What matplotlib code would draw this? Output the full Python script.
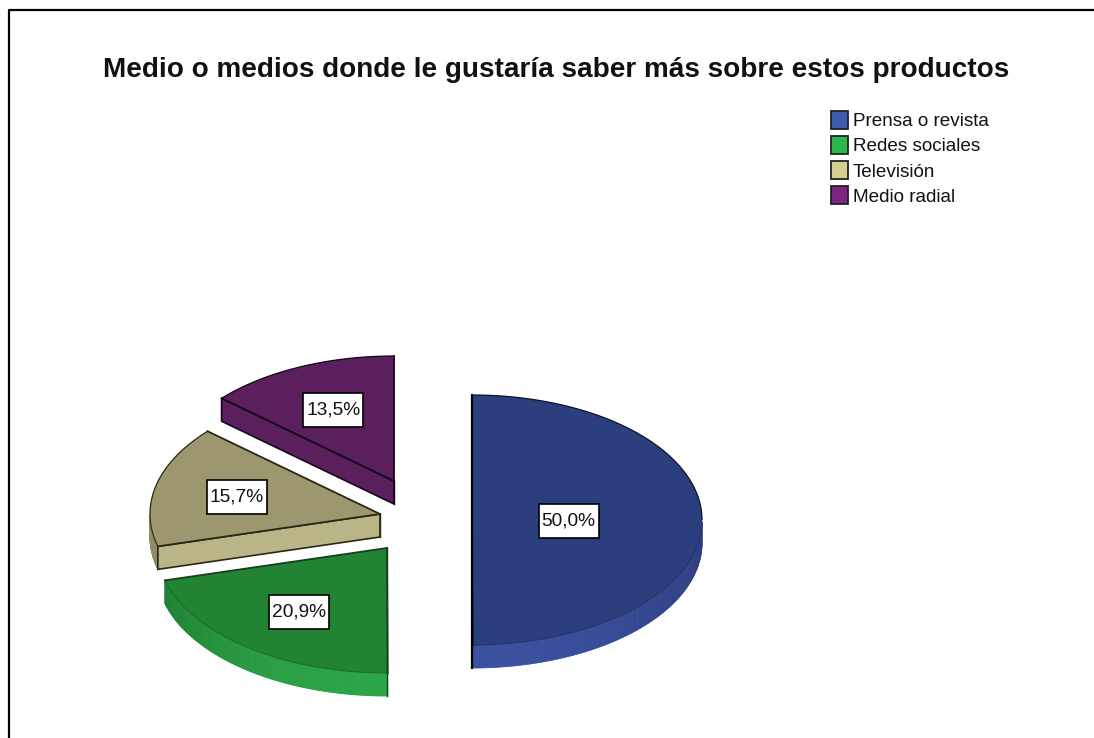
import numpy as np
import matplotlib
matplotlib.use('Agg')  # no display here
import matplotlib.pyplot as plt
from matplotlib.colors import to_rgb
from matplotlib.patches import Polygon, Rectangle

plt.rcParams['font.family'] = ['Liberation Sans', 'DejaVu Sans']

# Survey results
categories = ['Prensa o revista', 'Redes sociales', 'Televisión', 'Medio radial']
values = [50.0, 20.9, 15.7, 13.5]
value_labels = ['50,0%', '20,9%', '15,7%', '13,5%']
title = 'Medio o medios donde le gustaría saber más sobre estos productos'

# Look of each slice
top_colors = ['#2b3f7e', '#238335', '#9c976f', '#5a1f5c']
rim_dark = ['#2d3d7e', '#1f7c33', '#8f8a66', '#5a1f5c']
rim_light = ['#3a51a0', '#2ba547', '#a5a07a', '#5a1f5c']
cut_colors = ['#3a51a0', '#2ba547', '#bab588', '#5c1f5e']
edge_colors = ['#0c1226', '#14401c', '#2a2814', '#14061a']
front_edge = ['#24346a', '#1c6e2c', '#2a2814', '#14061a']
legend_colors = ['#3c5aaf', '#2cb84a', '#d5cf92', '#7b2480']

# Pie geometry in pixels, y pointing down
RX, RY, DEPTH = 230, 125, 23
centers = [(472, 520), (387, 548), (380, 514), (394, 481)]
label_frac = [0.42, 0.63, 0.64, 0.64]
BOX_W, BOX_H = 60, 34


def rim_point(cx, cy, deg):
    # angle runs clockwise from 12 o'clock
    t = np.radians(deg)
    return cx + RX * np.sin(t), cy - RY * np.cos(t)


def draw_slice(ax, i, start, end):
    cx, cy = centers[i]
    deg = np.linspace(start, end, 181)
    xs, ys = rim_point(cx, cy, deg)

    # outer wall is only seen on the front half of the ellipse
    wall = deg[(deg >= 90) & (deg <= 270)]
    dark = np.array(to_rgb(rim_dark[i]))
    light = np.array(to_rgb(rim_light[i]))
    for a, b in zip(wall[:-1], wall[1:]):
        xa, ya = rim_point(cx, cy, a)
        xb, yb = rim_point(cx, cy, b)
        # brightest towards the bottom of the pie
        w = np.clip(np.cos(np.radians(a - 180)), 0, 1) ** 1.5
        col = dark + (light - dark) * w
        ax.add_patch(Polygon([(xa, ya), (xb, yb), (xb, yb + DEPTH), (xa, ya + DEPTH)],
                             fc=col, ec=col, lw=0.6, zorder=2))

    # the cut face is visible only for slices starting on the left side
    if start > 180:
        px, py = rim_point(cx, cy, start)
        ax.add_patch(Polygon([(cx, cy), (px, py), (px, py + DEPTH), (cx, cy + DEPTH)],
                             fc=cut_colors[i], ec=edge_colors[i], lw=1.2, zorder=3))

    # top face, back arc dark and front arc nearly the fill colour
    verts = np.column_stack([np.r_[cx, xs], np.r_[cy, ys]])
    ax.add_patch(Polygon(verts, closed=True, fc=top_colors[i], ec='none', zorder=4))
    back = (deg <= 90) | (deg >= 270)
    front = (deg >= 90) & (deg <= 270)
    ax.plot(xs[back], ys[back], color=edge_colors[i], lw=0.9, zorder=5)
    ax.plot(xs[front], ys[front], color=front_edge[i], lw=0.8, zorder=5)
    ax.plot([cx, xs[0]], [cy, ys[0]], color=edge_colors[i], lw=1.3, zorder=5)
    ax.plot([cx, xs[-1]], [cy, ys[-1]], color=edge_colors[i], lw=1.3, zorder=5)

    # vertical edge running down to the bottom of the wall
    if i == 0:
        ax.plot([cx, cx], [cy - RY, cy + RY + DEPTH], color='black', lw=1.6, zorder=6)
    elif i == 1:
        ax.plot([cx, cx], [cy, cy + RY + DEPTH], color=edge_colors[i], lw=1.0, zorder=6)
    else:
        ax.plot([cx, cx], [cy, cy + DEPTH], color=edge_colors[i], lw=1.0, zorder=4)

    # value label sits along the middle of the slice
    lx, ly = rim_point(cx, cy, (start + end) / 2)
    lx = cx + (lx - cx) * label_frac[i]
    ly = cy + (ly - cy) * label_frac[i] + 1.5
    ax.add_patch(Rectangle((lx - BOX_W / 2, ly - BOX_H / 2), BOX_W, BOX_H, fc='white', ec='black', lw=1.2, zorder=7))
    ax.text(lx, ly, value_labels[i], ha='center', va='center', fontsize=13.8, color='#111111', zorder=8)


fig = plt.figure(figsize=(10.94, 7.38), dpi=100)
ax = fig.add_axes([0, 0, 1, 1])
ax.set_xlim(0, 1094)
ax.set_ylim(738, 0)
ax.axis('off')

# frame of the chart window
ax.plot([8.5, 8.5, 1094], [738, 9.5, 9.5], color='black', lw=1.6, zorder=1)

ax.text(556.5, 70, title, ha='center', va='center', fontsize=20.05, fontweight='bold', color='#111111')

angles = np.cumsum([0] + values) / np.sum(values) * 360
for i in range(len(values)):
    draw_slice(ax, i, angles[i], angles[i + 1])

# legend
for i, name in enumerate(categories):
    y = 119.5 + i * 25.3
    ax.add_patch(Rectangle((830.5, y - 9), 17, 18, fc=legend_colors[i], ec='#222222', lw=1.3, zorder=3))
    ax.text(853, y + 2, name, ha='left', va='center', fontsize=13.6, color='#111111')

fig.savefig('out.png', dpi=100)
